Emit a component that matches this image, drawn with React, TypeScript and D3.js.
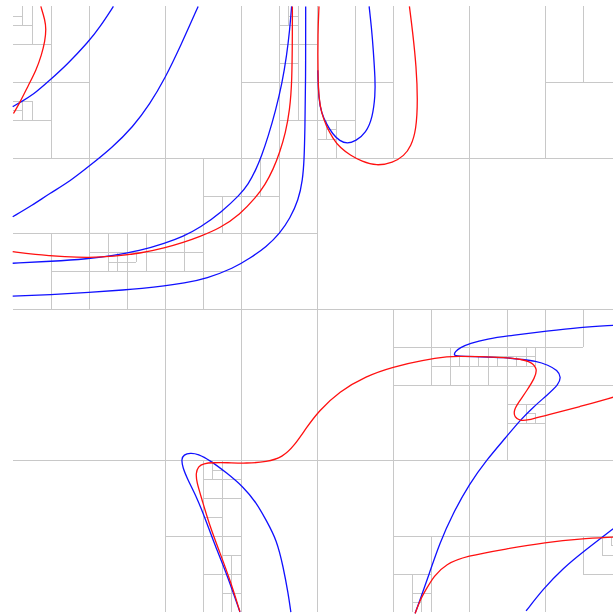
import React from "react";
import * as d3 from "d3";

type P = [number, number];

// Quadtree subdivision lines, in cell units (the full square is 16 x 16)
// vertical: [u, vStart, vEnd]
const vLines: [number, number, number][] = [
  [8, 0, 16], [4, 0, 16], [12, 0, 16],
  [2, 0, 8], [1, 0, 4], [0.5, 0, 1], [0.25, 0, 0.5],
  [0.5, 2.5, 3], [0.25, 2.5, 3],
  [6, 0, 16], [7, 0, 6], [7.5, 0, 3], [7.25, 0, 0.5],
  [5, 4, 8], [5, 12, 16], [5.5, 5, 6], [6.5, 4, 5], [4.5, 6, 7], [3.5, 6, 7],
  [3, 6, 8], [2.5, 6, 7], [1, 6, 8], [2.75, 6.5, 7], [3.25, 6.5, 6.75],
  [9, 0, 4], [10, 0, 4], [8.5, 3, 4], [8.25, 3, 3.5],
  [14, 0, 4], [15, 0, 2],
  [5.5, 12, 14], [5.25, 12, 12.5], [5.5, 14, 16], [5.75, 14.5, 16],
  [10, 8, 16], [11, 8, 10], [11.5, 9, 10], [11.75, 9.25, 9.5], [12.25, 9.25, 9.5],
  [12.5, 9, 10], [12.75, 9.25, 9.5], [13, 8, 12], [13.25, 9.25, 9.5], [13.5, 9, 9.5],
  [13.75, 9, 9.5], [14, 8, 16], [15, 8, 9], [13.5, 10.5, 11], [13.75, 10.75, 11],
  [11, 14, 16], [10.5, 15, 16], [10.75, 15.5, 16], [15, 14, 15], [15.5, 14, 14.5],
  [15.75, 14, 14.25],
];

// horizontal: [v, uStart, uEnd]
const hLines: [number, number, number][] = [
  [8, 0, 16], [4, 0, 16], [12, 0, 16],
  [2, 0, 2], [1, 0, 1], [3, 0, 1], [0.5, 0, 0.5], [0.25, 0, 0.25],
  [2.5, 0, 0.5], [2.75, 0, 0.25],
  [2, 6, 10], [1, 7, 8], [0.5, 7, 7.5], [1.5, 7, 7.5], [0.25, 7.25, 7.5],
  [3, 7, 9], [3.5, 8, 8.5], [3.25, 8.25, 8.5], [2, 14, 16],
  [6, 0, 8], [5, 5, 7], [6.5, 2, 5], [7, 1, 6], [6.75, 2.5, 3.25],
  [14, 4, 6], [13, 5, 6], [12.5, 5, 6], [12.25, 5.25, 5.5], [13.5, 5, 5.5],
  [15, 5, 6], [14.5, 5.5, 6], [15.5, 5.5, 6],
  [10, 10, 16], [9, 10, 15], [9.5, 11, 13.75], [9.25, 11.5, 13.75],
  [10.5, 13, 14], [11, 13, 14], [10.75, 13.5, 13.75],
  [14, 10, 16], [15, 10, 11], [15, 15, 16], [15.5, 10.5, 11], [15.75, 10.5, 10.75],
  [14.5, 15.5, 16], [14.25, 15.75, 16],
];

// Blue curves
const blueA: P[] = [
  [2.65, 0.0], [2.3, 0.54], [2.0, 0.93], [1.42, 1.55], [1.0, 1.93],
  [0.54, 2.34], [0.19, 2.54], [0.0, 2.65],
];
const blueB: P[] = [
  [4.88, 0.0], [4.43, 1.02], [4.0, 1.92], [3.61, 2.58], [3.17, 3.18], [2.61, 3.74],
  [2.0, 4.23], [1.51, 4.62], [0.98, 4.94], [0.51, 5.26], [0.0, 5.56],
];
const blueC: P[] = [
  [7.34, 0.0], [7.29, 0.62], [7.21, 1.3], [7.09, 2.03], [6.92, 2.75], [6.72, 3.45],
  [6.55, 3.95], [6.4, 4.32], [6.2, 4.7], [5.98, 4.98], [5.5, 5.43], [4.93, 5.85],
  [4.49, 6.08], [4.01, 6.26], [3.35, 6.46], [2.56, 6.6], [2.0, 6.67], [1.0, 6.74],
  [0.0, 6.79],
];
const blueD: P[] = [
  [7.71, 0.0], [7.71, 1.95], [7.69, 3.27], [7.67, 4.06], [7.63, 4.59], [7.52, 5.12],
  [7.3, 5.6], [7.03, 6.0], [6.68, 6.35], [6.24, 6.66], [5.81, 6.92], [5.11, 7.19],
  [4.49, 7.32], [4.01, 7.39], [3.35, 7.46], [3.0, 7.49], [2.0, 7.56], [1.0, 7.62],
  [0.0, 7.66],
];
const blueE: P[] = [
  [8.03, 1.69], [8.05, 2.47], [8.13, 2.82], [8.24, 3.08], [8.42, 3.38], [8.61, 3.56],
  [8.8, 3.63], [9.03, 3.56], [9.3, 3.34], [9.47, 2.94], [9.54, 2.34], [9.54, 1.95],
  [9.49, 1.15], [9.44, 0.54], [9.38, 0.0],
];
const blueF: P[] = [
  [15.8, 8.43], [14.93, 8.48], [14.05, 8.58], [13.18, 8.69], [12.46, 8.79],
  [12.03, 8.91], [11.77, 9.02], [11.64, 9.13], [11.61, 9.22], [11.68, 9.25],
  [12.3, 9.26], [12.96, 9.28], [13.36, 9.33], [13.77, 9.37], [14.09, 9.48],
  [14.34, 9.62], [14.43, 9.8], [14.37, 9.99], [14.07, 10.27], [13.7, 10.59],
  [13.36, 10.93], [12.99, 11.38], [12.46, 12.0], [12.02, 12.62], [11.58, 13.41],
  [11.23, 14.2], [10.96, 15.0], [10.72, 15.69], [10.59, 16.04],
];
const blueG: P[] = [
  [13.51, 15.98], [13.96, 15.4], [14.48, 14.85], [15.06, 14.38], [15.5, 14.04], [15.8, 13.81],
];
const blueH: P[] = [
  [5.98, 16.01], [5.63, 14.99], [5.32, 14.24], [5.06, 13.52], [4.84, 12.97],
  [4.61, 12.52], [4.47, 12.18], [4.44, 11.97], [4.5, 11.85], [4.67, 11.8],
  [4.88, 11.83], [5.19, 12.0], [5.63, 12.33], [6.07, 12.7], [6.42, 13.13],
  [6.68, 13.6], [6.95, 14.11], [7.12, 14.82], [7.25, 15.52], [7.32, 16.01],
];

// Red curves
const redA: P[] = [
  [0.74, 0.0], [0.85, 0.36], [0.88, 0.6], [0.85, 0.92], [0.76, 1.28],
  [0.62, 1.68], [0.42, 2.07], [0.19, 2.54], [0.02, 2.83],
];
const redB: P[] = [
  [7.36, 0.0], [7.36, 0.7], [7.35, 2.02], [7.29, 2.74], [7.18, 3.35], [7.03, 3.85],
  [6.86, 4.3], [6.64, 4.72], [6.4, 5.05], [5.98, 5.5], [5.46, 5.86], [4.93, 6.08],
  [4.49, 6.24], [4.01, 6.38], [3.35, 6.53], [2.65, 6.61], [2.0, 6.64], [1.42, 6.62],
  [0.54, 6.56], [0.0, 6.48],
];
const redC: P[] = [
  [8.06, 0.0], [8.03, 0.7], [8.03, 1.81], [8.06, 2.47], [8.13, 2.82], [8.24, 3.14],
  [8.43, 3.5], [8.62, 3.74], [8.88, 3.93], [9.19, 4.1], [9.57, 4.22], [10.01, 4.13],
  [10.3, 3.95], [10.48, 3.7], [10.62, 3.27], [10.66, 2.47], [10.62, 1.59],
  [10.53, 0.71], [10.44, 0.0],
];
const redD: P[] = [
  [5.98, 16.0], [5.72, 15.16], [5.46, 14.46], [5.19, 13.75], [4.97, 13.0],
  [4.84, 12.57], [4.82, 12.34], [4.88, 12.16], [5.02, 12.08], [5.28, 12.06],
  [5.63, 12.06], [6.16, 12.08], [6.68, 12.04], [7.1, 11.92], [7.42, 11.6],
  [7.72, 11.15], [8.05, 10.7], [8.59, 10.18], [9.3, 9.77], [10.0, 9.53],
  [10.79, 9.35], [11.51, 9.25], [11.68, 9.25], [12.3, 9.25], [12.96, 9.28],
  [13.36, 9.32], [13.65, 9.4], [13.81, 9.58], [13.74, 9.82], [13.54, 10.14],
  [13.32, 10.46], [13.18, 10.68], [13.21, 10.87], [13.35, 10.95], [13.53, 10.95],
  [14.05, 10.8], [14.93, 10.58], [15.8, 10.33],
];
const redE: P[] = [
  [10.59, 16.05], [10.72, 15.69], [10.88, 15.41], [11.08, 15.06], [11.4, 14.74],
  [11.93, 14.53], [12.98, 14.34], [14.03, 14.17], [14.93, 14.07], [15.8, 14.03],
];

const blueCurves: P[][] = [blueA, blueB, blueC, blueD, blueE, blueF, blueG, blueH];
const redCurves: P[][] = [redA, redB, redC, redD, redE];

export default function App() {
  const W = 613;
  const H = 614;
  const x = d3.scaleLinear().domain([0, 16]).range([12.7, 620.7]);
  const y = d3.scaleLinear().domain([0, 16]).range([6.4, 611.7]);
  const snap = (p: number) => Math.round(p) + 0.5;
  const line = d3
    .line<P>()
    .x((d) => x(d[0]))
    .y((d) => y(d[1]))
    .curve(d3.curveBasis);

  return (
    <svg
      width={W}
      height={H}
      style={{ position: "absolute", left: 0, top: 0, background: "#ffffff" }}
    >
      <g stroke="#c8c8c8" strokeWidth={1} shapeRendering="crispEdges">
        {vLines.map((d, i) => (
          <line key={"v" + i} x1={snap(x(d[0]))} x2={snap(x(d[0]))} y1={y(d[1])} y2={y(d[2])} />
        ))}
        {hLines.map((d, i) => (
          <line key={"h" + i} y1={snap(y(d[0]))} y2={snap(y(d[0]))} x1={x(d[1])} x2={x(d[2])} />
        ))}
      </g>
      <g fill="none" stroke="#1010ff" strokeWidth={1.3}>
        {blueCurves.map((c, i) => (
          <path key={"b" + i} d={line(c) || ""} />
        ))}
      </g>
      <g fill="none" stroke="#ff1010" strokeWidth={1.3}>
        {redCurves.map((c, i) => (
          <path key={"r" + i} d={line(c) || ""} />
        ))}
      </g>
    </svg>
  );
}
